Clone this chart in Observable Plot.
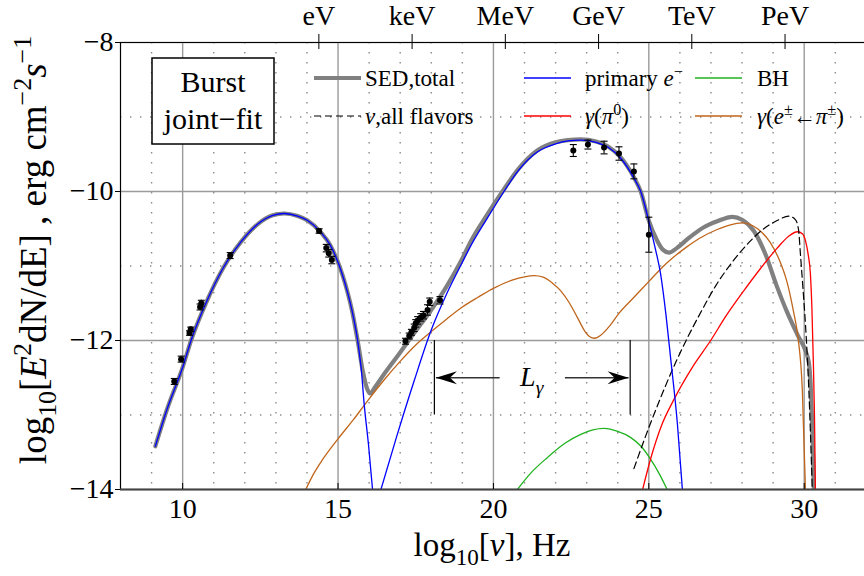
<!DOCTYPE html>
<html><head><meta charset="utf-8">
<script src="https://cdn.jsdelivr.net/npm/d3@7"></script>
<script src="https://cdn.jsdelivr.net/npm/@observablehq/plot@0.6"></script>
<style>body{margin:0;background:#fff} svg{overflow:visible}</style>
</head><body><div id="chart"></div>
<script>
// ---- axes / ticks ----
const xMajor = [10, 15, 20, 25, 30];
const xMinor = [9, 11, 12, 13, 14, 16, 17, 18, 19, 21, 22, 23, 24, 26, 27, 28, 29, 31];
const yMajor = [-8, -10, -12, -14];
const yMinor = [-9, -11, -13];
const energyTicks = [14.383, 17.383, 20.383, 23.383, 26.383, 29.383];
const energyLabels = ["eV", "keV", "MeV", "GeV", "TeV", "PeV"];

// ---- curves [log10 nu, log10 E^2 dN/dE] ----
const sedTotal = [[9.12,-13.42],[9.5,-12.92],[10.0,-12.36],[10.27,-12.0],[10.8,-11.45],[11.3,-11.03],[11.87,-10.68],[12.41,-10.44],[12.9,-10.32],[13.27,-10.295],[13.7,-10.33],[14.02,-10.39],[14.45,-10.55],[14.75,-10.72],[14.98,-10.93],[15.15,-11.13],[15.31,-11.36],[15.45,-11.6],[15.63,-12.0],[15.8,-12.42],[15.93,-12.64],[16.03,-12.71],[16.2,-12.62],[16.5,-12.44],[16.91,-12.21],[17.45,-11.9],[17.98,-11.6],[18.5,-11.27],[19.0,-10.9],[19.27,-10.67],[19.8,-10.31],[20.29,-10.0],[20.8,-9.7],[21.41,-9.45],[22.0,-9.34],[22.4,-9.31],[22.81,-9.3],[23.3,-9.33],[23.7,-9.4],[24.09,-9.54],[24.52,-9.81],[24.74,-10.0],[25.0,-10.39],[25.27,-10.66],[25.45,-10.78],[25.65,-10.82],[25.9,-10.76],[26.3,-10.62],[26.77,-10.48],[27.2,-10.4],[27.69,-10.34],[28.0,-10.38],[28.38,-10.53],[28.76,-10.85],[29.1,-11.25],[29.45,-11.62],[29.78,-11.92],[30.05,-12.15],[30.15,-12.3],[30.22,-12.7],[30.27,-13.3],[30.31,-14.0]];
const primaryLow = [[9.12,-13.42],[9.5,-12.92],[10.0,-12.36],[10.27,-12.0],[10.8,-11.45],[11.3,-11.03],[11.87,-10.68],[12.41,-10.44],[12.9,-10.32],[13.27,-10.295],[13.7,-10.33],[14.02,-10.39],[14.45,-10.55],[14.75,-10.72],[14.98,-10.93],[15.15,-11.13],[15.31,-11.36],[15.45,-11.6],[15.63,-12.0],[15.75,-12.4],[15.84,-12.85],[15.98,-13.4],[16.11,-14.0]];
const primaryHigh = [[16.38,-14.0],[16.9,-13.27],[17.45,-12.54],[17.99,-11.87],[18.5,-11.37],[19.0,-10.95],[19.27,-10.73],[19.8,-10.36],[20.34,-10.0],[20.8,-9.72],[21.41,-9.47],[22.0,-9.36],[22.4,-9.32],[22.81,-9.31],[23.3,-9.34],[23.7,-9.41],[24.09,-9.55],[24.52,-9.82],[24.74,-10.0],[25.0,-10.4],[25.2,-10.75],[25.38,-11.11],[25.55,-11.65],[25.7,-12.23],[25.92,-13.12],[26.08,-14.0]];
const gammaPion = [[13.96,-14.0],[14.2,-13.8],[14.5,-13.6],[15.0,-13.32],[15.5,-13.06],[15.95,-12.81],[16.5,-12.52],[17.02,-12.27],[17.5,-12.06],[18.03,-11.87],[18.5,-11.71],[19.0,-11.55],[19.5,-11.42],[20.0,-11.3],[20.6,-11.19],[21.0,-11.145],[21.31,-11.13],[21.6,-11.15],[21.9,-11.23],[22.16,-11.33],[22.45,-11.5],[22.7,-11.69],[22.95,-11.88],[23.1,-11.95],[23.25,-11.97],[23.45,-11.93],[23.75,-11.8],[24.05,-11.63],[24.5,-11.43],[25.02,-11.2],[25.38,-11.04],[25.77,-10.89],[26.2,-10.75],[26.62,-10.63],[27.2,-10.51],[27.6,-10.45],[28.0,-10.42],[28.5,-10.5],[28.9,-10.68],[29.2,-10.92],[29.45,-11.22],[29.65,-11.6],[29.8,-11.96],[29.94,-12.67],[30.04,-14.0]];
const gammaPi0 = [[24.8,-14.0],[25.07,-13.57],[25.4,-13.15],[25.81,-12.79],[26.4,-12.36],[26.99,-12.0],[27.5,-11.66],[28.06,-11.33],[28.6,-11.03],[29.13,-10.76],[29.5,-10.6],[29.78,-10.54],[29.95,-10.57],[30.04,-10.66],[30.13,-10.85],[30.2,-11.11],[30.25,-11.6],[30.29,-12.23],[30.33,-13.0],[30.36,-14.0]];
const neutrino = [[24.52,-13.72],[24.9,-13.28],[25.34,-12.81],[25.75,-12.4],[26.2,-12.0],[26.7,-11.6],[27.16,-11.26],[27.7,-10.94],[28.23,-10.68],[28.7,-10.5],[29.13,-10.39],[29.5,-10.33],[29.72,-10.38],[29.82,-10.52],[29.88,-10.85],[29.96,-11.3],[30.04,-11.78],[30.15,-12.67],[30.26,-14.0]];
const bh = [[20.77,-14.0],[21.2,-13.78],[21.74,-13.57],[22.3,-13.38],[22.81,-13.26],[23.2,-13.2],[23.56,-13.18],[24.0,-13.22],[24.41,-13.3],[24.75,-13.42],[25.05,-13.59],[25.35,-13.8],[25.59,-14.0]];

// ---- observed points [x, y, error] ----
const obs = [[9.73,-12.55,0.04],[9.95,-12.25,0.04],[10.22,-11.9,0.03],[10.26,-11.85,0.03],[10.56,-11.55,0.04],[10.6,-11.5,0.04],[11.53,-10.86,0.04],[14.39,-10.53,0.03],[14.62,-10.76,0.05],[14.7,-10.83,0.05],[14.8,-10.92,0.05],
[17.17,-12.01,0.04],[17.29,-11.94,0.04],[17.36,-11.89,0.04],[17.45,-11.83,0.05],[17.5,-11.77,0.05],[17.56,-11.73,0.05],[17.66,-11.69,0.05],[17.75,-11.66,0.05],[17.88,-11.59,0.07],[17.95,-11.48,0.05],[18.28,-11.46,0.05],
[22.57,-9.45,0.08],[23.04,-9.37,0.06],[23.56,-9.41,0.085],[24.04,-9.49,0.09],[24.52,-9.73,0.1],[25.0,-10.58,0.235]];

// ---- L_gamma annotation ----
const lgBounds = [18.1, 24.4];
const lgSpan = [-12.0, -13.0];
const lgArrows = [[20.2, 18.15], [22.3, 24.35]];
const lgY = -12.5;

const capSym = {draw(c) { c.moveTo(-3.5, 0); c.lineTo(3.5, 0); }};
const headSym = {draw(c) { c.moveTo(0, 0); c.lineTo(-21, -6.5); c.lineTo(-14, 0); c.lineTo(-21, 6.5); c.closePath(); }};

const line = (data, o) => Plot.line(data, {x: d => d[0], y: d => d[1], curve: "monotone-x", clip: true, ...o});

const plot = Plot.plot({
  width: 864, height: 576,
  marginLeft: 120, marginRight: 0, marginTop: 42, marginBottom: 87,
  x: {domain: [8, 31.94]},
  y: {domain: [-14, -8]},
  style: {fontFamily: "'Liberation Serif', 'DejaVu Serif', serif", fontSize: "28px", background: "#fff", color: "black"},
  marks: [
    Plot.gridX(xMinor, {stroke: "#8c8c8c", strokeOpacity: 1, strokeWidth: 1.4, strokeDasharray: "1.4 8.6"}),
    Plot.gridY(yMinor, {stroke: "#8c8c8c", strokeOpacity: 1, strokeWidth: 1.4, strokeDasharray: "1.4 8.6"}),
    Plot.gridX(xMajor, {stroke: "#9a9a9a", strokeOpacity: 1, strokeWidth: 1.4}),
    Plot.gridY(yMajor, {stroke: "#9a9a9a", strokeOpacity: 1, strokeWidth: 1.4}),
    line(sedTotal, {stroke: "#808080", strokeWidth: 4.2}),
    line(gammaPion, {stroke: "#c0651a", strokeWidth: 1.3}),
    line(bh, {stroke: "#1fb31f", strokeWidth: 1.3}),
    line(gammaPi0, {stroke: "#ff0000", strokeWidth: 1.3}),
    line(neutrino, {stroke: "black", strokeWidth: 1.2, strokeDasharray: "7 4"}),
    line(primaryLow, {stroke: "#0000ff", strokeWidth: 1.3}),
    line(primaryHigh, {stroke: "#0000ff", strokeWidth: 1.3}),
    Plot.ruleX(obs, {x: d => d[0], y1: d => d[1] - d[2], y2: d => d[1] + d[2], stroke: "black", strokeWidth: 1.1}),
    Plot.dot(obs, {x: d => d[0], y: d => d[1] - d[2], symbol: capSym, stroke: "black", strokeWidth: 1.1, fill: "none"}),
    Plot.dot(obs, {x: d => d[0], y: d => d[1] + d[2], symbol: capSym, stroke: "black", strokeWidth: 1.1, fill: "none"}),
    Plot.dot(obs, {x: d => d[0], y: d => d[1], r: 3, fill: "black", stroke: "none"}),
    Plot.ruleX(lgBounds, {y1: lgSpan[0], y2: lgSpan[1], stroke: "black", strokeWidth: 1.2}),
    Plot.link(lgArrows, {x1: d => d[0], x2: d => d[1], y1: lgY, y2: lgY, stroke: "#333", strokeWidth: 1.3}),
    Plot.dot([lgArrows[0]], {x: d => d[1], y: lgY, symbol: headSym, rotate: 180, fill: "black", stroke: "none"}),
    Plot.dot([lgArrows[1]], {x: d => d[1], y: lgY, symbol: headSym, rotate: 0, fill: "black", stroke: "none"}),
    Plot.ruleY([-8], {stroke: "black", strokeWidth: 1.2}),
    Plot.ruleX([8], {stroke: "black", strokeWidth: 1.2}),
    Plot.ruleY([-14], {stroke: "#444", strokeWidth: 2}),
    Plot.axisY({ticks: yMajor, anchor: "left", tickSize: 5, tickPadding: 2, label: null, tickFormat: d => "\u2212" + Math.abs(d), fontSize: 28}),
    Plot.axisX({ticks: xMajor, anchor: "bottom", tickSize: 0, tickPadding: 9, label: null, tickFormat: d => String(d), fontSize: 28}),
    Plot.axisX({ticks: xMajor, anchor: "bottom", tickSize: -6, fill: "none", label: null}),
    Plot.axisX({ticks: energyTicks, anchor: "top", tickSize: 9, tickPadding: 9, label: null, tickFormat: d => energyLabels[energyTicks.indexOf(d)], fontSize: 28}),
    Plot.axisX({ticks: energyTicks, anchor: "top", tickSize: -6, fill: "none", label: null})
  ]
});
document.getElementById("chart").appendChild(plot);

// ---- rich text helper ----
const svg = d3.select(plot);
function rich(g, x, y, segs, fs, anchor, transform) {
  const t = g.append("text").attr("x", x).attr("y", y)
    .attr("font-family", "'Liberation Serif', 'DejaVu Serif', serif")
    .attr("font-size", fs).attr("fill", "black").attr("text-anchor", anchor || "start");
  if (transform) t.attr("transform", transform);
  let shift = 0;
  for (const s of segs) {
    const ts = t.append("tspan").text(s.t);
    const target = s.sup ? -0.4 * fs : s.sub ? 0.28 * fs : 0;
    if (target !== shift) ts.attr("dy", target - shift);
    shift = target;
    if (s.sup || s.sub) ts.attr("font-size", 0.7 * fs);
    if (s.i) ts.attr("font-style", "italic");
  }
  return t;
}
const X = plot.scale("x"), Y = plot.scale("y");

// axis titles
rich(svg, 0, 0, [{t: "log"}, {t: "10", sub: true}, {t: "["}, {t: "E", i: true}, {t: "2", sup: true}, {t: "dN/dE] , erg cm"}, {t: "\u22122", sup: true}, {t: "s", i: true}, {t: "\u22121", sup: true}], 37, "middle", "translate(46,250) rotate(-90)");
rich(svg, 492, 556, [{t: "log"}, {t: "10", sub: true}, {t: "["}, {t: "\u03bd", i: true}, {t: "], Hz"}], 33, "middle");

// L_gamma label
rich(svg, X.apply((lgArrows[0][0] + lgArrows[1][0]) / 2), Y.apply(lgY) + 9, [{t: "L", i: true}, {t: "\u03b3", i: true, sub: true}], 28, "middle");

// Burst box
svg.append("rect").attr("x", 152).attr("y", 58).attr("width", 122).attr("height", 86).attr("fill", "white").attr("stroke", "black").attr("stroke-width", 1.5);
rich(svg, 213, 92, [{t: "Burst"}], 30, "middle");
rich(svg, 213, 129, [{t: "joint\u2212fit"}], 30, "middle");

// legend
const leg = [
  {x: 314, y: 78, stroke: "#808080", w: 4.2, dash: null, segs: [{t: "SED,total"}]},
  {x: 314, y: 116, stroke: "black", w: 1.2, dash: "7 4", segs: [{t: "\u03bd", i: true}, {t: ",all flavors"}]},
  {x: 524, y: 78, stroke: "#0000ff", w: 1.3, dash: null, segs: [{t: "primary "}, {t: "e", i: true}, {t: "\u2212", sup: true}]},
  {x: 524, y: 116, stroke: "#ff0000", w: 1.3, dash: null, segs: [{t: "\u03b3", i: true}, {t: "("}, {t: "\u03c0", i: true}, {t: "0", sup: true}, {t: ")"}]},
  {x: 695, y: 78, stroke: "#1fb31f", w: 1.3, dash: null, segs: [{t: "BH"}]},
  {x: 695, y: 116, stroke: "#c0651a", w: 1.3, dash: null, segs: [{t: "\u03b3", i: true}, {t: "("}, {t: "e", i: true}, {t: "\u00b1", sup: true}, {t: "\u2190"}, {t: "\u03c0", i: true}, {t: "\u00b1", sup: true}, {t: ")"}]}
];
for (const l of leg) {
  const ln = svg.append("line").attr("x1", l.x).attr("x2", l.x + 47).attr("y1", l.y).attr("y2", l.y)
    .attr("stroke", l.stroke).attr("stroke-width", l.w);
  if (l.dash) ln.attr("stroke-dasharray", l.dash);
  const off = l.x === 314 ? 51 : l.x === 524 ? 61 : 62;
  rich(svg, l.x + off, l.y + 8, l.segs, 23, "start");
}
</script>
</body></html>
